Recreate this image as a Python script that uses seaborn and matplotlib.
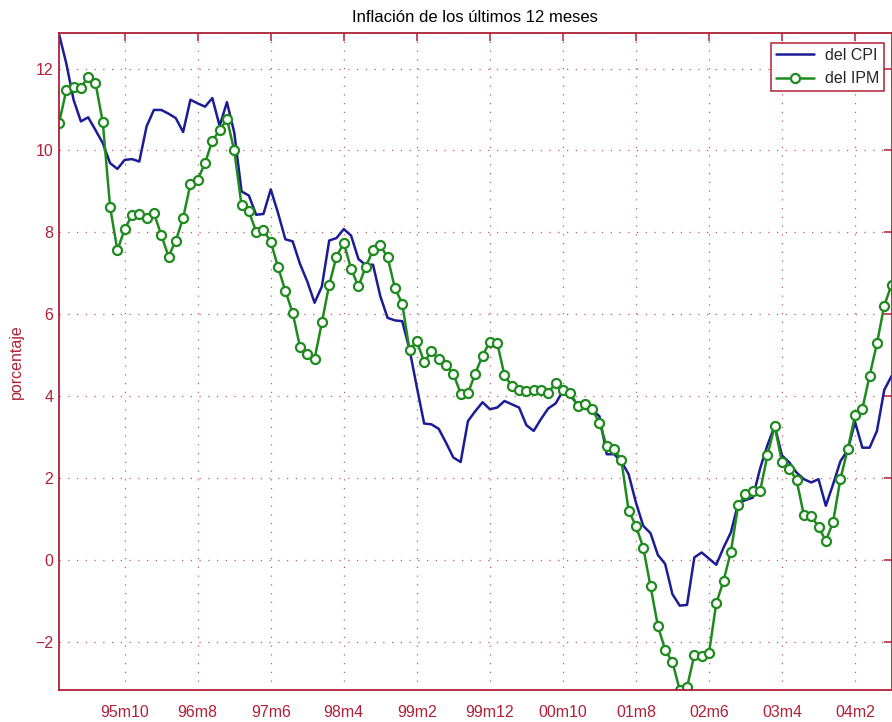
import numpy as np
import pandas as pd
import matplotlib
matplotlib.use("Agg")
import matplotlib.pyplot as plt
import seaborn as sns

# Monthly 12-month inflation, 1995m1 .. 2004m7
cpi = [12.85, 12.13, 11.24, 10.71, 10.81, 10.50, 10.18, 9.69, 9.55, 9.77,
       9.79, 9.73, 10.59, 10.99, 10.99, 10.90, 10.79, 10.45, 11.24, 11.15,
       11.07, 11.28, 10.60, 11.18, 10.44, 9.00, 8.90, 8.43, 8.45, 9.05,
       8.47, 7.83, 7.78, 7.23, 6.80, 6.28, 6.68, 7.80, 7.86, 8.08,
       7.92, 7.35, 7.20, 7.21, 6.44, 5.91, 5.85, 5.83, 5.14, 4.22,
       3.33, 3.31, 3.20, 2.86, 2.50, 2.39, 3.39, 3.63, 3.85, 3.68,
       3.72, 3.88, 3.80, 3.72, 3.29, 3.15, 3.44, 3.70, 3.82, 4.12,
       4.01, 3.80, 3.69, 3.66, 3.51, 2.58, 2.58, 2.41, 2.09, 1.40,
       0.83, 0.65, 0.12, -0.10, -0.84, -1.12, -1.10, 0.06, 0.18, 0.03,
       -0.12, 0.30, 0.67, 1.38, 1.46, 1.52, 2.23, 2.80, 3.27, 2.55,
       2.38, 2.13, 1.97, 1.89, 1.97, 1.32, 1.85, 2.41, 2.68, 3.37,
       2.74, 2.74, 3.15, 4.15, 4.49]

ipm = [10.66, 11.47, 11.55, 11.53, 11.80, 11.65, 10.69, 8.62, 7.56, 8.08,
       8.42, 8.44, 8.36, 8.47, 7.94, 7.41, 7.80, 8.35, 9.18, 9.29,
       9.69, 10.24, 10.49, 10.77, 10.00, 8.66, 8.51, 8.02, 8.05, 7.77,
       7.15, 6.57, 6.03, 5.21, 5.04, 4.91, 5.80, 6.72, 7.41, 7.74,
       7.11, 6.68, 7.16, 7.56, 7.68, 7.39, 6.64, 6.26, 5.12, 5.35,
       4.83, 5.09, 4.91, 4.75, 4.55, 4.06, 4.07, 4.55, 4.99, 5.33,
       5.30, 4.51, 4.24, 4.14, 4.12, 4.14, 4.15, 4.07, 4.33, 4.15,
       4.08, 3.77, 3.80, 3.68, 3.35, 2.78, 2.70, 2.44, 1.20, 0.83,
       0.30, -0.65, -1.61, -2.20, -2.50, -3.18, -3.11, -2.32, -2.36, -2.28,
       -1.06, -0.51, 0.20, 1.33, 1.60, 1.67, 1.68, 2.55, 3.27, 2.38,
       2.23, 1.94, 1.09, 1.06, 0.81, 0.46, 0.93, 1.98, 2.70, 3.53,
       3.69, 4.50, 5.29, 6.21, 6.72]

month_index = list(range(len(cpi)))
tick_months = [9, 19, 29, 39, 49, 59, 69, 79, 89, 99, 109]
tick_labels = ["95m10", "96m8", "97m6", "98m4", "99m2", "99m12",
               "00m10", "01m8", "02m6", "03m4", "04m2"]
y_ticks = [-2, 0, 2, 4, 6, 8, 10, 12]

df = pd.DataFrame({"mes": month_index, "cpi": cpi, "ipm": ipm})

sns.set_theme(style="white")
plt.rcParams["font.family"] = ["Liberation Sans", "DejaVu Sans"]

frame_red = "#b02038"
blue = "#1c1c96"
green = "#1f8a1f"

fig = plt.figure(figsize=(8.92, 7.22), dpi=100)
ax = fig.add_axes([0.0661, 0.0443, 0.9334, 0.9100])

sns.lineplot(data=df, x="mes", y="cpi", ax=ax, color=blue, linewidth=1.8,
             label="del CPI")
sns.lineplot(data=df, x="mes", y="ipm", ax=ax, color=green, linewidth=1.8,
             marker="o", markersize=6.5, markerfacecolor="white",
             markeredgecolor=green, markeredgewidth=1.6, label="del IPM")

ax.set_xlim(0, len(cpi) - 1)
ax.set_ylim(min(min(cpi), min(ipm)), max(max(cpi), max(ipm)) + 0.02)

ax.set_xticks(tick_months)
ax.set_xticklabels(tick_labels)
ax.set_yticks(y_ticks)
ax.set_yticklabels([("\u2212" + str(-v)) if v < 0 else str(v) for v in y_ticks])

ax.tick_params(axis="both", direction="in", length=6, width=1.1,
               colors=frame_red, labelsize=11.5, top=True, right=True,
               labelcolor=frame_red)
ax.tick_params(axis="x", pad=11)
ax.tick_params(axis="y", pad=4)
for side in ax.spines.values():
    side.set_color(frame_red)
    side.set_linewidth(1.3)

ax.grid(True, color=frame_red, linestyle=(0, (1, 6)), linewidth=0.9, alpha=0.75)

ax.set_xlabel("")
ax.set_ylabel("porcentaje", color=frame_red, fontsize=11.5, labelpad=8)
ax.set_title("Inflación de los últimos 12 meses", fontsize=12, color="black",
             pad=8)

leg = ax.legend(loc="upper right", bbox_to_anchor=(0.995, 0.99),
                borderaxespad=0.2, fontsize=11.5, frameon=True, fancybox=False,
                handlelength=2.4, borderpad=0.3, labelspacing=0.55,
                handletextpad=0.7)
leg.get_frame().set_edgecolor(frame_red)
leg.get_frame().set_linewidth(1.1)
leg.get_frame().set_facecolor("white")
leg.get_frame().set_alpha(1)

fig.savefig("out.png", dpi=100)
